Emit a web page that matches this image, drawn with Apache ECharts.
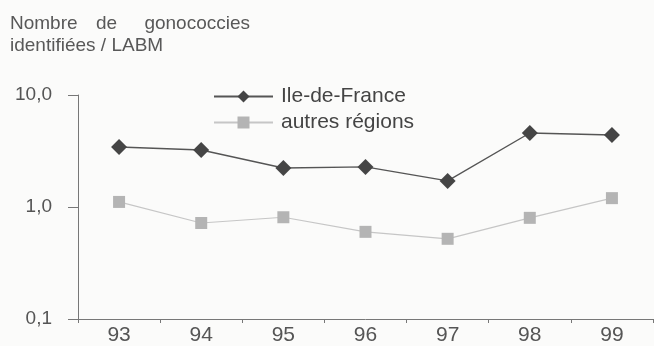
<!DOCTYPE html>
<html>
<head>
<meta charset="utf-8">
<script src="https://cdn.jsdelivr.net/npm/echarts@6/dist/echarts.min.js"></script>
<style>
  html, body { margin: 0; padding: 0; background: #fbfbfa; }
  #chart { width: 654px; height: 346px; }
</style>
</head>
<body>
<div id="chart"></div>
<script>
// Years on the horizontal axis
const years = ['93', '94', '95', '96', '97', '98', '99'];
// Gonococcies identified per laboratory (log scale)
const ileDeFrance = [3.43, 3.23, 2.23, 2.28, 1.71, 4.58, 4.39];
const autresRegions = [1.11, 0.72, 0.81, 0.60, 0.52, 0.80, 1.20];
const seriesNames = ['Ile-de-France', 'autres régions'];
// Axis title, first line spread across its full width
const titleLine1 = ['Nombre', 'de', 'gonococcies'];
const titleLine2 = 'identifiées / LABM';

const FONT = '"Liberation Sans", Arial, sans-serif';
const TITLE_FONT = '19px ' + FONT;
const TITLE_COLOR = '#585858';
const chart = echarts.init(document.getElementById('chart'), null, { renderer: 'canvas' });

chart.setOption({
  backgroundColor: '#fbfbfa',
  animation: false,
  graphic: [
    { type: 'text', style: { text: titleLine1[0], x: 10, y: 24, font: TITLE_FONT, fill: TITLE_COLOR, align: 'left', verticalAlign: 'middle' } },
    { type: 'text', style: { text: titleLine1[1], x: 96, y: 24, font: TITLE_FONT, fill: TITLE_COLOR, align: 'left', verticalAlign: 'middle' } },
    { type: 'text', style: { text: titleLine1[2], x: 250, y: 24, font: TITLE_FONT, fill: TITLE_COLOR, align: 'right', verticalAlign: 'middle' } },
    { type: 'text', style: { text: titleLine2, x: 10, y: 46, font: TITLE_FONT, fill: TITLE_COLOR, align: 'left', verticalAlign: 'middle' } }
  ],
  legend: {
    orient: 'vertical',
    left: 213,
    top: 86,
    padding: 0,
    itemWidth: 59,
    itemHeight: 15,
    itemGap: 5,
    data: seriesNames,
    textStyle: { fontFamily: FONT, fontSize: 21, lineHeight: 21, color: '#444', padding: [0, 0, 0, 3] }
  },
  grid: { left: 78, right: 1, top: 95, bottom: 27, containLabel: false },
  xAxis: {
    type: 'category',
    data: years,
    boundaryGap: true,
    axisLine: { lineStyle: { color: '#777', width: 1 } },
    axisTick: { show: true, length: 4, lineStyle: { color: '#777' } },
    axisLabel: { fontFamily: FONT, fontSize: 21, color: '#555', margin: 6 },
    splitLine: { show: false }
  },
  yAxis: {
    type: 'log',
    logBase: 10,
    min: 0.1,
    max: 10,
    axisLine: { show: true, lineStyle: { color: '#777', width: 1 } },
    axisTick: { show: true, length: 10, lineStyle: { color: '#777' } },
    minorTick: { show: false },
    splitLine: { show: false },
    axisLabel: {
      fontFamily: FONT, fontSize: 19, color: '#555', margin: 26,
      formatter: v => Number(v).toFixed(1).replace('.', ',')
    }
  },
  series: [
    {
      name: seriesNames[0],
      type: 'line',
      data: ileDeFrance,
      symbol: 'diamond',
      symbolSize: 16,
      lineStyle: { color: '#555', width: 1.4 },
      itemStyle: { color: '#454545' }
    },
    {
      name: seriesNames[1],
      type: 'line',
      data: autresRegions,
      symbol: 'rect',
      symbolSize: 12,
      lineStyle: { color: '#c6c6c6', width: 1.2 },
      itemStyle: { color: '#b4b4b4' }
    }
  ]
});
</script>
</body>
</html>
